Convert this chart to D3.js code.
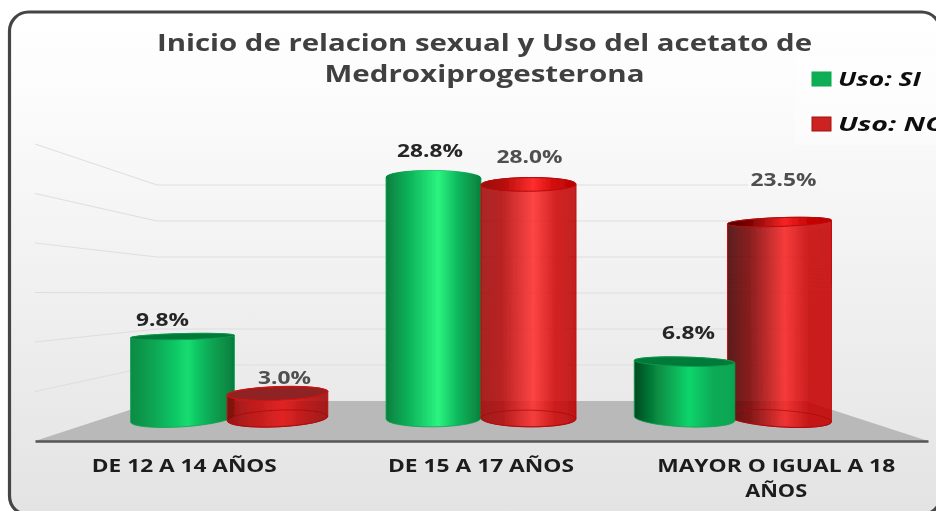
<!DOCTYPE html>
<html><head><meta charset="utf-8">
<script src="https://cdn.jsdelivr.net/npm/d3@7"></script>
<style>html,body{margin:0;padding:0;background:#fff;overflow:hidden}svg{display:block}
text{font-family:"Open Sans",sans-serif}</style></head>
<body><svg id="c" width="936" height="511"></svg>
<script>
const categories = ["DE 12 A 14 AÑOS", "DE 15 A 17 AÑOS", "MAYOR O IGUAL A 18 AÑOS"];
const seriesNames = ["Uso: SI", "Uso: NO"];
const usoSi = [9.8, 28.8, 6.8];
const usoNo = [3.0, 28.0, 23.5];
const gridTicks = [5, 10, 15, 20, 25, 30];
const titleLines = ["Inicio de relacion sexual y Uso del acetato de", "Medroxiprogesterona"];

/* layout */
const W = 936, H = 511;
const floorF = {l:35, r:928, y:441}, floorB = {l:157, r:805, y:401};
const eyeY = 290, midX = 481;
const svg = d3.select("#c");
const defs = svg.append("defs");

const yBar  = d3.scaleLinear().domain([0,30]).range([418.5,167.7]);
const ySide = d3.scaleLinear().domain([0,30]).range([floorF.y,144]);
const yBack = d3.scaleLinear().domain([0,30]).range([floorB.y,185]);
const xGroup = d3.scalePoint().domain(categories).range([230,732]);
const xInner = d3.scaleBand().domain(seriesNames).range([-95,95]);
const xAxisS = d3.scaleBand().domain(categories).range([floorF.l,floorF.r]);
const widen = d3.scaleLinear().domain([47.5,298]).range([95,104]);
const capRy = d3.scaleLinear().domain([0,128]).range([0,8.3]);
const tilt = (x,y)=>(x-midX)*(y-eyeY)*1e-4;

/* background */
const bg = defs.append("linearGradient").attr("id","bg").attr("x1",0).attr("x2",0).attr("y1",0).attr("y2",1);
bg.append("stop").attr("offset",0).attr("stop-color","#ffffff");
bg.append("stop").attr("offset",.15).attr("stop-color","#fcfcfc");
bg.append("stop").attr("offset",1).attr("stop-color","#e3e3e3");
const blur = defs.append("filter").attr("id","soft")
  .attr("filterUnits","userSpaceOnUse").attr("x",0).attr("y",0).attr("width",W).attr("height",H);
blur.append("feGaussianBlur").attr("stdDeviation",0.45);

const root = svg.append("g").attr("filter","url(#soft)");
root.append("rect").attr("width",W).attr("height",H).attr("fill","#fff");
root.append("rect").attr("x",9.5).attr("y",12).attr("width",931).attr("height",503).attr("rx",19)
  .attr("fill","url(#bg)").attr("stroke","#454545").attr("stroke-width",3.2);

/* title */
const titleWidths = [655, 320];
root.selectAll("text.title").data(titleLines).join("text").attr("class","title")
  .attr("x",484.5).attr("y",(d,i)=>[51,82][i]).attr("text-anchor","middle")
  .attr("font-size",24).attr("font-weight",700).attr("fill","#404040")
  .attr("textLength",(d,i)=>titleWidths[i]).attr("lengthAdjust","spacingAndGlyphs").text(d=>d);

/* legend */
const legendFill = ["#0bae56","#cc2020"], legendStroke = ["#0aa850","#a80f0f"];
root.append("rect").attr("x",795).attr("y",57).attr("width",141).attr("height",88).attr("fill","#fff").attr("opacity",.35);
const lg = root.selectAll("g.lg").data(seriesNames).join("g").attr("class","lg")
  .attr("transform",(d,i)=>`translate(812,${[72,117][i]})`);
lg.append("rect").attr("width",19).attr("height",14).attr("fill",(d,i)=>legendFill[i]).attr("stroke",(d,i)=>legendStroke[i]);
lg.append("text").attr("x",26).attr("y",13.5).attr("font-size",20).attr("font-style","italic").attr("font-weight",700)
  .attr("fill","#111").attr("textLength",(d,i)=>[83,108][i]).attr("lengthAdjust","spacingAndGlyphs").text(d=>d);

/* grid + floor */
root.selectAll("path.grid").data(gridTicks).join("path").attr("class","grid")
  .attr("d",v=>d3.line()([[floorF.l,ySide(v)],[floorB.l,yBack(v)],[floorB.r,yBack(v)]]))
  .attr("fill","none").attr("stroke","#dedede").attr("stroke-width",1);
root.append("path").attr("d",d3.line()([[floorF.l,floorF.y],[floorB.l,floorB.y],[floorB.r,floorB.y],[floorF.r,floorF.y]])+"Z")
  .attr("fill","#b9b9b9");

/* axis */
const axisG = root.append("g").attr("transform",`translate(0,${floorF.y})`)
  .call(d3.axisBottom(xAxisS).tickSize(0).tickPadding(16));
axisG.select(".domain").attr("stroke","#565656").attr("stroke-width",2.6);
const axisWidths = [[185],[186],[238,62]];
const axisShift = [0.5,-0.5,-3];
axisG.selectAll(".tick text").each(function(d,i){
  const t = d3.select(this).text(null).attr("y",null).attr("dy",null)
    .attr("font-size",17).attr("font-weight",700).attr("fill","#1c1c1c")
    .style("font-family",'"Open Sans",sans-serif');
  const lines = i===2 ? ["MAYOR O IGUAL A 18","AÑOS"] : [d];
  lines.forEach((l,k)=>t.append("tspan").attr("x",axisShift[i]).attr("y",31+k*25).text(l)
     .attr("textLength",axisWidths[i][k]).attr("lengthAdjust","spacingAndGlyphs"));
});

/* cylinders */
const ramps = {
 "Uso: SI":[["#098a44","#0aa553","#14dc70","#0aa553","#067d3c"],
            ["#067f3e","#0aae58","#2bf480","#0ab25a","#067f3c"],
            ["#024a20","#07893f","#10d56c","#0aab57","#06a652"]],
 "Uso: NO":[["#8e0000","#bb0404","#e60e0e","#bb0404","#9c0202"],
            ["#9d0707","#b20505","#ff2b2b","#cf0505","#ba0000"],
            ["#440000","#7c0000","#f72020","#c60000","#c40000"]]
};
const stopsAt=[0,.22,.55,.78,1];
const rows = [];
seriesNames.forEach((s,si)=>categories.forEach((c,ci)=>{
  const value = (si===0?usoSi:usoNo)[ci];
  const cx = xGroup(c)+xInner(s)+xInner.bandwidth()/2;
  rows.push({s,si,c,ci,value,cx,rx:widen(Math.abs(cx-midX))/2,yT:yBar(value),yB:yBar(0)});
}));
rows.sort((a,b)=>Math.abs(b.cx-midX)-Math.abs(a.cx-midX));
rows.forEach(d=>{
  const id=`g${d.si}${d.ci}`;
  const g=defs.append("linearGradient").attr("id",id).attr("x1",0).attr("x2",1).attr("y1",0).attr("y2",0);
  ramps[d.s][d.ci].forEach((col,i)=>g.append("stop").attr("offset",stopsAt[i]).attr("stop-color",col));
  d.id=id;
});
const pt=(d,y,side)=>{const a=tilt(d.cx,y)*Math.PI/180;return [d.cx+side*d.rx*Math.cos(a),y+side*d.rx*Math.sin(a)];};
const ell=(d,y)=>{const ry=Math.max(2.5,capRy(Math.abs(y-eyeY)));const r=tilt(d.cx,y);
  const [x1,y1]=pt(d,y,-1),[x2,y2]=pt(d,y,1);
  return {ry,r,x1,y1,x2,y2};};
const bars=root.selectAll("g.bar").data(rows).join("g").attr("class","bar");
bars.each(function(d){
  const g=d3.select(this), T=ell(d,d.yT), B=ell(d,d.yB), red=d.si===1;
  const ePath=(e)=>`M${e.x1},${e.y1}A${d.rx},${e.ry} ${e.r} 1 1 ${e.x2},${e.y2}A${d.rx},${e.ry} ${e.r} 1 1 ${e.x1},${e.y1}Z`;
  const body=`M${T.x1},${T.y1}L${B.x1},${B.y1}A${d.rx},${B.ry} ${B.r} 0 0 ${B.x2},${B.y2}L${T.x2},${T.y2}A${d.rx},${T.ry} ${T.r} 0 0 ${T.x1},${T.y1}Z`;
  const below=d.yT>eyeY;
  if(red){
    g.append("path").attr("d",body).attr("fill",`url(#${d.id})`).attr("fill-opacity",.87).attr("stroke","#c40a0a").attr("stroke-width",1);
    g.append("path").attr("d",ePath(B)).attr("fill","none").attr("stroke","#a00808").attr("stroke-opacity",.65).attr("stroke-width",1);
    if(below) g.append("path").attr("d",ePath(T)).attr("fill","#8f2020").attr("stroke","#c81414").attr("stroke-width",1.4);
    else g.append("path").attr("d",ePath(T)).attr("fill",`url(#${d.id})`).attr("fill-opacity",.87).attr("stroke","#b40a0a").attr("stroke-width",1);
  } else {
    g.append("path").attr("d",body).attr("fill",`url(#${d.id})`).attr("stroke","#0aa552").attr("stroke-width",.8);
    if(below) g.append("path").attr("d",ePath(T)).attr("fill","#067a38").attr("stroke","#0a9a4c").attr("stroke-width",.8);
    else g.append("path").attr("d",ePath(T)).attr("fill",`url(#${d.id})`);
  }
});

/* data labels: centre offsets from each cylinder's cap */
const labelNudge = {g00:[-20,-11],g01:[-3.5,-21],g02:[4,-23],g10:[7,-9],g11:[1,-21],g12:[4,-36]};
const fmt = d3.format(".1f");
root.selectAll("text.val").data(rows).join("text").attr("class","val")
  .attr("x",d=>d.cx+labelNudge[d.id][0]).attr("y",d=>d.yT+labelNudge[d.id][1])
  .attr("text-anchor","middle").attr("font-size",17).attr("font-weight",700)
  .attr("fill",d=>d.si===0?"#262626":"#505050")
  .attr("stroke",d=>d.id==="g12"?"#f8f8f8":"none").attr("stroke-width",d=>d.id==="g12"?5:0)
  .attr("paint-order","stroke")
  .attr("textLength",d=>d.value>=10?66:53).attr("lengthAdjust","spacingAndGlyphs")
  .text(d=>fmt(d.value)+"%");
</script></body></html>
